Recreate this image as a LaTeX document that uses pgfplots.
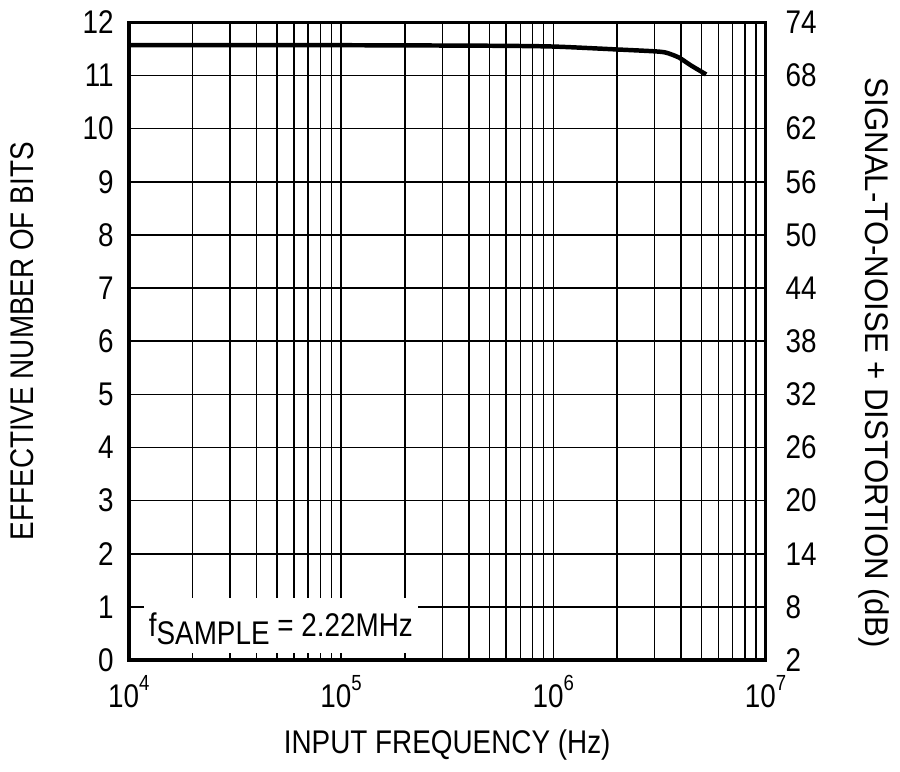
\documentclass[border=0pt]{standalone}
\usepackage{pgfplots}
\pgfplotsset{compat=1.18}
\usepackage{fontspec}
\setmainfont[FakeStretch=0.85]{Liberation Sans}
\newcommand{\tsup}[1]{\raisebox{0.52em}{\fontsize{22}{22}\selectfont #1}}
\begin{document}
\fontsize{33}{40}\selectfont
\begin{tikzpicture}
% --- grid layer
\begin{axis}[
  at={(0pt,0pt)}, anchor=south west, scale only axis,
  width=641pt, height=642pt,
  xmode=log, xmin=1e4, xmax=1e7, ymin=0, ymax=12,
  xtick={1e4,1e5,1e6,1e7},
  minor xtick={2e4,3e4,4e4,5e4,6e4,7e4,8e4,9e4,2e5,3e5,4e5,5e5,6e5,7e5,8e5,9e5,2e6,3e6,4e6,5e6,6e6,7e6,8e6,9e6},
  ytick={0,1,...,12},
  xticklabels={}, yticklabels={},
  major tick length=0pt, minor tick length=0pt,
  xmajorgrids, xminorgrids, ymajorgrids,
  major grid style={black, line width=1.5pt},
  minor grid style={black, line width=1.5pt},
  axis line style={draw=none},
]
\addplot[draw=none] coordinates {(1e4,0) (1e7,12)};
\end{axis}
\fill[white] (15pt,7pt) rectangle (291pt,62pt);
\node[anchor=base west, inner sep=0pt] at (20pt,24pt) {f\raisebox{-8pt}{SAMPLE} = 2.22MHz};
% --- main axis
\begin{axis}[
  at={(0pt,0pt)}, anchor=south west, scale only axis,
  width=641pt, height=642pt,
  xmode=log, xmin=1e4, xmax=1e7, ymin=0, ymax=12,
  xtick={1e4,1e5,1e6,1e7},
  xticklabels={10\tsup{4},10\tsup{5},10\tsup{6},10\tsup{7}},
  minor xtick={2e4,3e4,4e4,5e4,6e4,7e4,8e4,9e4,1e5,2e5,3e5,4e5,5e5,6e5,7e5,8e5,9e5,1e6,2e6,3e6,4e6,5e6,6e6,7e6,8e6,9e6},
  ytick={0,1,...,12},
  tick pos=left, tick align=inside,
  major tick length=15pt, minor tick length=7pt,
  xtick style={draw=none},
  minor tick style={black, line width=1.5pt},
  ytick style={black, line width=1.5pt},
  axis line style={black, line width=3.5pt},
  /pgf/number format/assume math mode=true,
  tick label style={font=\fontsize{33}{40}\selectfont},
  xticklabel style={yshift=-4pt},
  yticklabel style={xshift=-4pt},
  xlabel={INPUT FREQUENCY (Hz)},
  ylabel={EFFECTIVE NUMBER OF BITS},
  every axis x label/.style={at={(axis description cs:0.5,0)}, anchor=base, yshift=-94pt, font=\fontsize{33}{40}\selectfont},
  every axis y label/.style={at={(axis description cs:0,0.5)}, xshift=-107pt, rotate=90, anchor=center, font=\fontsize{33}{40}\selectfont},
]
\addplot[black, line width=4.5pt, smooth, tension=0.4] coordinates {
  (1e4,11.57) (1e5,11.57) (5e5,11.56) (1e6,11.545) (2e6,11.49) (3e6,11.455)
  (3.4e6,11.43) (3.9e6,11.34) (4.45e6,11.19) (5.25e6,11.02)
};
\end{axis}
% --- right axis
\begin{axis}[
  at={(0pt,0pt)}, anchor=south west, scale only axis,
  width=641pt, height=642pt,
  xmode=log, xmin=1e4, xmax=1e7, ymin=2, ymax=74,
  axis x line=none, axis y line*=right,
  ytick={2,8,...,74},
  ytick style={draw=none},
  axis line style={black, line width=3.5pt, -},
  /pgf/number format/assume math mode=true,
  tick label style={font=\fontsize{33}{40}\selectfont},
  yticklabel style={xshift=9pt},
  ylabel={\scalebox{1.12}[1]{SIGNAL-TO-NOISE + DISTORTION (dB)}},
  every axis y label/.style={at={(axis description cs:1,0.4665)}, xshift=109pt, rotate=-90, anchor=center, font=\fontsize{33}{40}\selectfont},
]
\addplot[draw=none] coordinates {(1e4,2) (1e7,74)};
\end{axis}
\path (-127pt,-108pt) rectangle (773pt,659pt);
\end{tikzpicture}
\end{document}
